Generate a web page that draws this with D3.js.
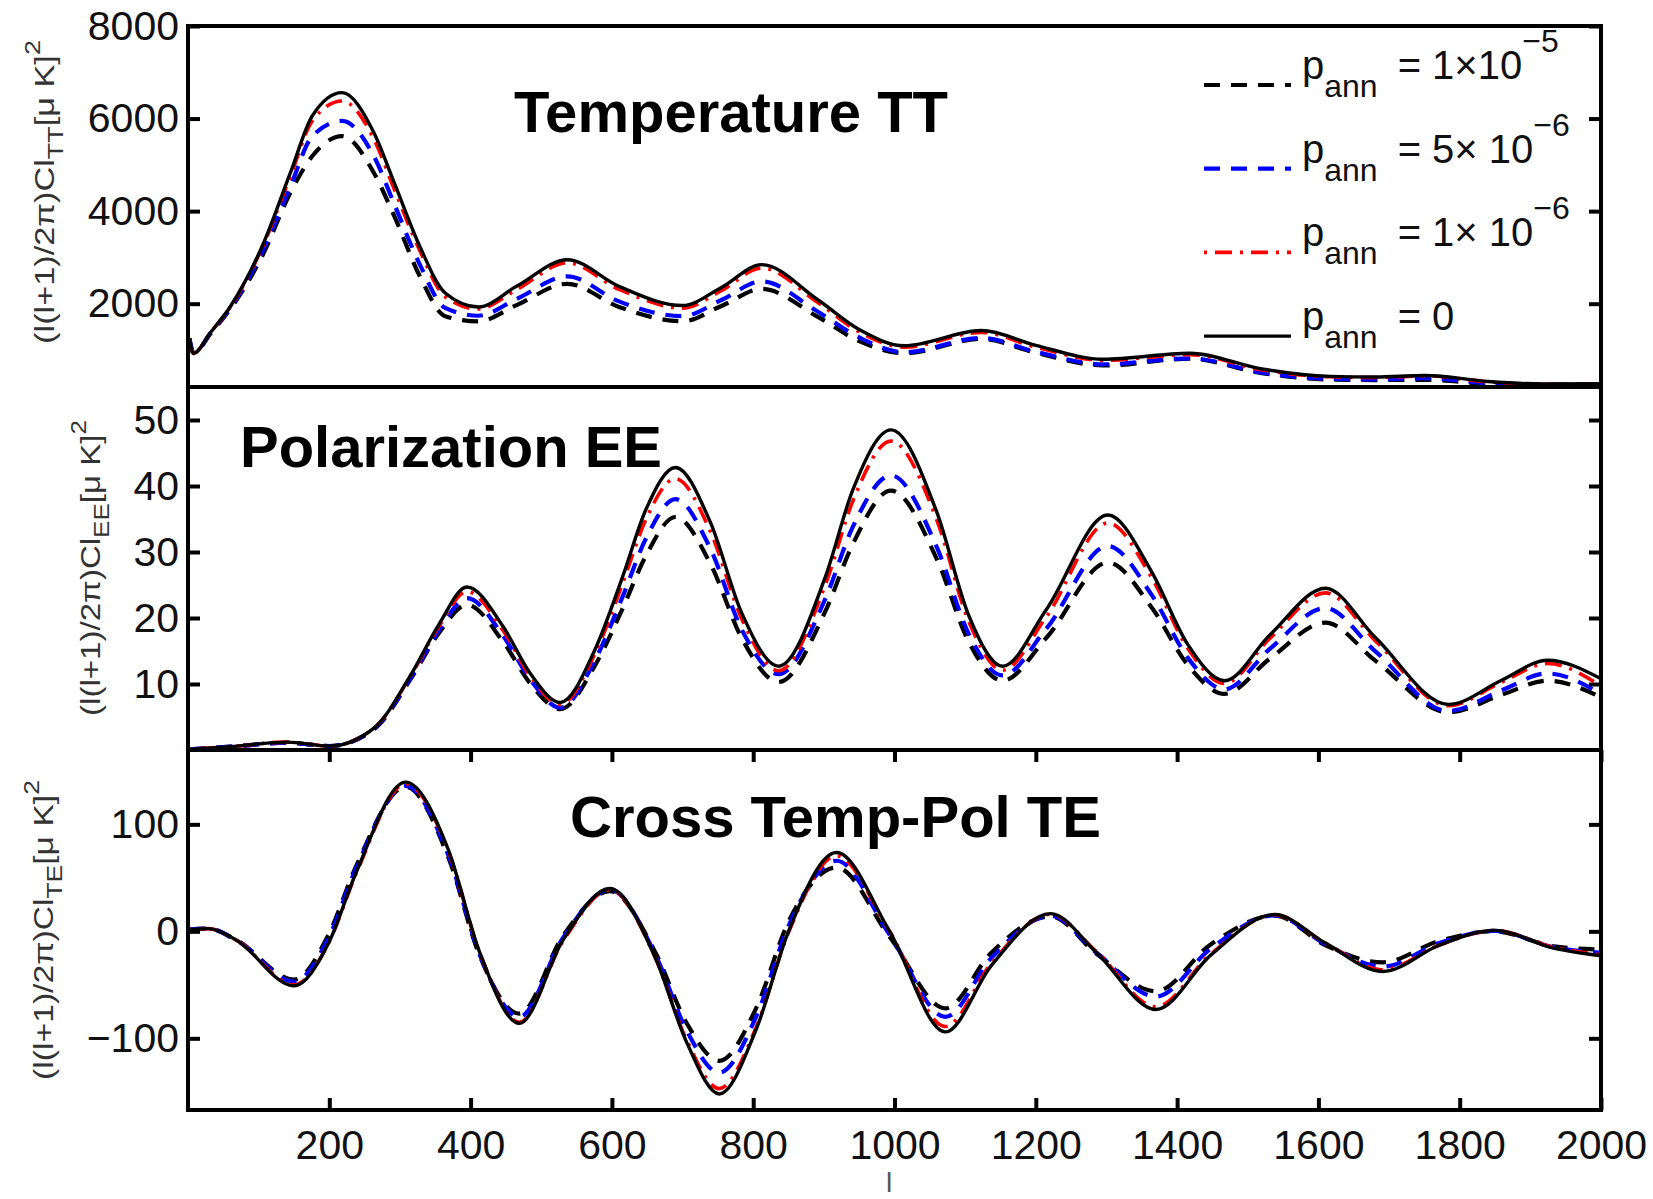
<!DOCTYPE html>
<html>
<head>
<meta charset="utf-8">
<script src="https://cdn.jsdelivr.net/npm/d3@7"></script>
<style>
  body { margin: 0; background: #fff; }
  svg { display: block; font-family: "Liberation Sans", Arial, Helvetica, sans-serif; }
</style>
</head>
<body>
<svg width="1653" height="1199"></svg>
<script>
// values at peaks, troughs and half-way points
const ttL     = [2, 8, 32, 60, 105, 145, 176, 218, 263, 292, 328, 364, 411, 465, 537, 610, 700, 755, 812, 891, 950, 1014, 1123, 1200, 1296, 1418, 1520, 1616, 1680, 1751, 1840, 1918, 2000];
const ttP0    = [1250, 930, 1380, 1940, 3240, 4830, 6060, 6560, 5700, 4610, 3240, 2230, 1930, 2375, 2950, 2375, 1960, 2350, 2845, 2090, 1440, 1090, 1420, 1100, 800, 930, 590, 430, 415, 450, 320, 265, 270];
const ttP1e6  = [1250, 930, 1380, 1930, 3210, 4760, 5950, 6380, 5560, 4470, 3150, 2150, 1885, 2300, 2880, 2310, 1905, 2280, 2770, 2030, 1390, 1060, 1380, 1060, 775, 900, 570, 420, 405, 440, 310, 260, 265];
const ttP5e6  = [1250, 930, 1370, 1910, 3120, 4540, 5620, 5950, 5190, 4150, 2850, 1910, 1740, 2100, 2590, 2050, 1730, 2080, 2480, 1830, 1270, 950, 1260, 960, 690, 820, 510, 375, 365, 390, 280, 250, 255];
const ttP1e5  = [1250, 930, 1360, 1890, 3030, 4400, 5190, 5620, 4830, 3890, 2600, 1730, 1620, 1970, 2430, 1930, 1620, 1950, 2320, 1720, 1190, 930, 1240, 940, 665, 810, 500, 362, 350, 355, 270, 245, 250];

const eeL     = [2, 60, 140, 200, 264, 316, 355, 395, 446, 485, 527, 576, 615, 648, 690, 739, 784, 836, 902, 941, 995, 1060, 1105, 1153, 1215, 1302, 1364, 1415, 1467, 1532, 1610, 1681, 1784, 1860, 1924, 2000];
const eeP0    = [0.1, 0.5, 1.2, 0.6, 3.4, 11.5, 19, 24.7, 18.7, 11.5, 7.2, 15.2, 26.2, 36.4, 42.8, 34.6, 20.7, 12.7, 26.2, 39.4, 48.5, 36, 20.4, 12.7, 21.3, 35.6, 27, 16, 10.5, 17.5, 24.5, 17, 6.9, 10.6, 13.6, 10.8];
const eeP1e6  = [0.1, 0.5, 1.2, 0.6, 3.4, 11.4, 18.7, 24.0, 18.1, 11.1, 6.9, 14.6, 25.2, 34.9, 41.1, 33.2, 19.8, 12.0, 25.0, 37.7, 46.8, 34.8, 19.5, 12.1, 20.2, 34.4, 26.1, 15.4, 10.1, 17.0, 23.8, 16.5, 6.7, 10.3, 13.1, 9.7];
const eeP5e6  = [0.1, 0.5, 1.1, 0.6, 3.3, 11.1, 18.1, 23.0, 17.3, 10.6, 6.4, 13.6, 23.2, 32.0, 38.0, 30.6, 18.2, 11.5, 22.9, 33.8, 41.6, 30.7, 17.6, 11.3, 18.4, 30.9, 23.5, 14.0, 9.2, 15.4, 21.5, 14.9, 5.9, 9.1, 11.6, 8.5];
const eeP1e5  = [0.1, 0.5, 1.1, 0.6, 3.2, 10.9, 17.7, 22.0, 16.4, 10.0, 6.2, 12.8, 21.4, 29.4, 35.3, 28.3, 16.9, 10.3, 21.0, 31.2, 39.3, 28.9, 16.4, 10.5, 17.0, 28.4, 21.6, 12.9, 8.5, 13.9, 19.3, 13.5, 5.7, 8.4, 10.5, 8.0];

const teL     = [2, 29, 68, 150, 199, 238, 308, 368, 413, 469, 531, 597, 661, 706, 752, 804, 850, 918, 993, 1072, 1137, 1221, 1286, 1370, 1448, 1538, 1610, 1691, 1771, 1849, 1933, 2000];
const teP0    = [1.6, 2.5, -8, -51, -11, 55, 139.5, 77, -20, -86, -8, 40, -24, -104, -152, -92, 0, 73.7, 0, -94, -32, 16.6, -20, -73, -22, 15.7, -11, -37.6, -13, 0.9, -15.7, -22.9];
const teP1e6  = [1.6, 2.5, -8, -50, -11, 54, 138, 76, -20, -85, -9, 39, -24, -102, -147, -90, -1, 70.5, 0, -89, -30, 16, -19, -70.5, -21, 15.5, -11, -36, -13, 0.8, -15, -22];
const teP5e6  = [1.6, 2.5, -8, -47, -6, 59, 136, 72, -22, -80, -6, 39, -21, -93, -132, -80, 5, 66, -3, -80, -25, 14.5, -20, -61, -16, 15, -12, -33, -11, 0.5, -15, -20];
const teP1e5  = [1.6, 2.5, -8, -45, -3, 61, 135, 70, -23, -77, -4, 37.6, -19, -86, -121, -72, 9, 59.6, -5, -72, -20, 14, -21, -56, -12, 14.7, -13, -29, -9, 0, -14, -17];

const ttTicks = [2000, 4000, 6000, 8000];
const eeTicks = [10, 20, 30, 40, 50];
const teTicks = [-100, 0, 100];
const lTicks  = [200, 400, 600, 800, 1000, 1200, 1400, 1600, 1800, 2000];

const panelTitles = ["Temperature TT", "Polarization EE", "Cross Temp-Pol TE"];
const panelSubs   = ["TT", "EE", "TE"];
// legend order = draw order
const legendMant  = ["= 1×10", "= 5× 10", "= 1× 10", "= 0"];
const legendExp   = ["−5", "−6", "−6", ""];

const styles = [
  { color: "#000", dash: "16,11", width: 4.2 },
  { color: "#0000ff", dash: "16,11", width: 4.2 },
  { color: "#ff0000", dash: "3,8,17,8", width: 3.6 },
  { color: "#000", dash: null, width: 3.4 }
];

const svg = d3.select("svg");
const X0 = 188, X1 = 1601;
const x = d3.scaleLinear().domain([0, 2000]).range([X0, X1]);

const panels = [
  { top: 26, bottom: 387, domain: [200, 8000], ticks: ttTicks, l: ttL, series: [ttP1e5, ttP5e6, ttP1e6, ttP0],
    title: { x: 514, y: 132, w: 434 }, ylab: { x: 54, y: 192, len: 304 } },
  { top: 387, bottom: 750, domain: [0, 55], ticks: eeTicks, l: eeL, series: [eeP1e5, eeP5e6, eeP1e6, eeP0],
    title: { x: 240, y: 467, w: 422 }, ylab: { x: 100, y: 568, len: 296 } },
  { top: 750, bottom: 1110, domain: [-167, 169.5], ticks: teTicks, l: teL, series: [teP1e5, teP5e6, teP1e6, teP0],
    title: { x: 570, y: 837, w: 531 }, ylab: { x: 53, y: 930, len: 300 } }
];

const fmt = d3.format("d");

panels.forEach(function(p, i) {
  const y = d3.scaleLinear().domain(p.domain).range([p.bottom, p.top]);

  svg.append("clipPath").attr("id", "clip" + i)
    .append("rect").attr("x", X0).attr("y", p.top).attr("width", X1 - X0).attr("height", p.bottom - p.top);

  const line = d3.line()
    .x(d => x(d[0]))
    .y(d => y(d[1]))
    .curve(d3.curveMonotoneX);

  const g = svg.append("g").attr("clip-path", "url(#clip" + i + ")");
  p.series.forEach(function(s, k) {
    g.append("path")
      .datum(d3.zip(p.l, s))
      .attr("d", line)
      .attr("fill", "none")
      .attr("stroke", styles[k].color)
      .attr("stroke-width", styles[k].width)
      .attr("stroke-dasharray", styles[k].dash)
      .attr("stroke-linejoin", "round");
  });

  // y axes, ticks pointing inwards on both sides
  const left = svg.append("g").attr("transform", "translate(" + X0 + ",0)")
    .call(d3.axisLeft(y).tickValues(p.ticks).tickSize(-12).tickPadding(9).tickFormat(fmt));
  const right = svg.append("g").attr("transform", "translate(" + X1 + ",0)")
    .call(d3.axisRight(y).tickValues(p.ticks).tickSize(-12).tickFormat(""));
  [left, right].forEach(function(a) {
    a.select(".domain").remove();
    a.selectAll(".tick line").attr("stroke", "#000").attr("stroke-width", 4);
  });
  left.selectAll("text").attr("font-size", 41).attr("font-family", null).attr("fill", "#111");

  if (i == 2) {
    const bottom = svg.append("g").attr("transform", "translate(0," + p.bottom + ")")
      .call(d3.axisBottom(x).tickValues(lTicks).tickSize(-12).tickPadding(20).tickFormat(fmt));
    const top = svg.append("g").attr("transform", "translate(0," + p.top + ")")
      .call(d3.axisTop(x).tickValues(lTicks).tickSize(-12).tickFormat(""));
    [bottom, top].forEach(function(a) {
      a.select(".domain").remove();
      a.selectAll(".tick line").attr("stroke", "#000").attr("stroke-width", 4);
    });
    bottom.selectAll("text").attr("font-size", 41).attr("font-family", null).attr("fill", "#111");
  }

  svg.append("rect")
    .attr("x", X0).attr("y", p.top)
    .attr("width", X1 - X0).attr("height", p.bottom - p.top)
    .attr("fill", "none").attr("stroke", "#000").attr("stroke-width", 4);

  svg.append("text")
    .attr("x", p.title.x).attr("y", p.title.y)
    .attr("font-size", 57).attr("font-weight", "bold")
    .attr("textLength", p.title.w).attr("lengthAdjust", "spacingAndGlyphs")
    .text(panelTitles[i]);

  // rotated y label, stretched to the length it has in the figure
  const lab = svg.append("g").attr("transform", "translate(" + p.ylab.x + "," + p.ylab.y + ") rotate(-90)")
    .append("text").attr("text-anchor", "middle").attr("font-size", 28).attr("fill", "#333");
  lab.append("tspan").text("(l(l+1)/2π)Cl");
  lab.append("tspan").attr("font-size", 22).attr("dy", 9).text(panelSubs[i]);
  lab.append("tspan").attr("dy", -9).text("[μ K]");
  lab.append("tspan").attr("font-size", 22).attr("dy", -14).text("2");
  const w = lab.node().getBBox().width;
  lab.attr("transform", "scale(" + (p.ylab.len / w) + ",1)");
});

svg.append("text")
  .attr("x", 889).attr("y", 1192)
  .attr("text-anchor", "middle")
  .attr("font-size", 28).attr("fill", "#555")
  .text("l");

// legend
legendMant.forEach(function(m, k) {
  const ly = 85 + k * 83.7;
  svg.append("line")
    .attr("x1", 1204).attr("x2", 1291).attr("y1", ly).attr("y2", ly)
    .attr("stroke", styles[k].color)
    .attr("stroke-width", styles[k].width)
    .attr("stroke-dasharray", styles[k].dash);
  const t = svg.append("text").attr("x", 1302).attr("y", ly - 6).attr("font-size", 40).attr("fill", "#111");
  t.append("tspan").text("p");
  t.append("tspan").attr("font-size", 32).attr("dy", 18).text("ann");
  t.append("tspan").attr("dx", 20).attr("dy", -18).text(m);
  if (legendExp[k]) t.append("tspan").attr("font-size", 32).attr("dy", -27).text(legendExp[k]);
});
</script>
</body>
</html>
